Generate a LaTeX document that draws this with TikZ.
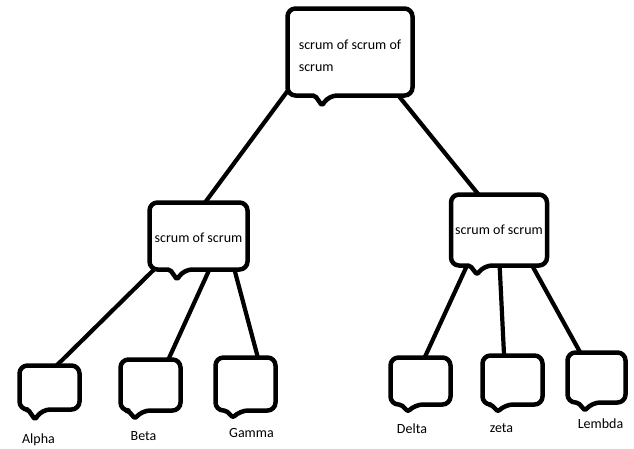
\documentclass[tikz,border=0pt]{standalone}
\usepackage{fontspec}
\setmainfont{Carlito}
\usepackage{tikz}

\newcommand{\bubbleline}[3]{%
  \draw[outline] (#1.north) [rounded corners=8pt] -- (#1.north east) -- (#1.south east)
    -- ([xshift=#2+7pt]#1.south) [rounded corners=2pt]
    -- ([xshift=#2, yshift=-#3]#1.south)
    -- ([xshift=#2-7pt]#1.south) [rounded corners=8pt]
    -- (#1.south west) -- (#1.north west) -- cycle;}

\begin{document}
\begin{tikzpicture}[
    x=1pt, y=-1pt,
    bubble/.style={rectangle, inner sep=0pt, outer sep=0pt,
                   font=\fontsize{14}{22}\selectfont, align=left},
    leaf/.style={bubble, minimum width=60pt},
    outline/.style={line width=4.5pt, line join=round},
    tag/.style={font=\fontsize{14}{16}\selectfont, inner sep=0pt, anchor=base},
    edge/.style={line width=4.2pt}]
    \useasboundingbox (0,0) rectangle (634,448);
    \node[bubble, minimum width=125pt, minimum height=87pt] (top) at (350,52)
      {\rule{0pt}{18pt}scrum of scrum of\\scrum};
    \node[bubble, minimum width=98pt, minimum height=67pt] (midl) at (198.5,236)
      {\rule{0pt}{14pt}scrum of scrum};
    \node[bubble, minimum width=96pt, minimum height=71pt] (midr) at (499,230)
      {scrum of scrum};
    \node[leaf, minimum height=44pt] (alpha) at (49.5,387.5) {};
    \node[leaf, minimum height=51pt] (beta) at (150.5,385) {};
    \node[leaf, minimum height=53pt] (gamma) at (245.5,384) {};
    \node[leaf, minimum height=47pt] (delta) at (420.5,381) {};
    \node[leaf, minimum height=49pt] (zeta) at (512.5,380) {};
    \node[leaf, minimum width=58pt, minimum height=50pt] (lembda) at (596.5,377.5) {};
    \bubbleline{top}{-28pt}{10pt}
    \bubbleline{midl}{-21.5pt}{10pt}
    \bubbleline{midr}{-22pt}{9pt}
    \bubbleline{alpha}{-14.5pt}{10pt}
    \bubbleline{beta}{-15.5pt}{8pt}
    \bubbleline{gamma}{-12.5pt}{7pt}
    \bubbleline{delta}{-12.5pt}{7pt}
    \bubbleline{zeta}{-14.5pt}{7pt}
    \bubbleline{lembda}{-11.5pt}{8pt}
    \node[tag] (alpha-name) at (38.5,443) {Alpha};
    \node[tag] (beta-name) at (143.5,440) {Beta};
    \node[tag] (gamma-name) at (251.5,437) {Gamma};
    \node[tag] (delta-name) at (412,433) {Delta};
    \node[tag] (zeta-name) at (501.5,432) {zeta};
    \node[tag] (lembda-name) at (600.5,428) {Lembda};
    \draw[edge] (top.212) -- (midl.79);
    \draw[edge] (top.318) -- (midr.120);
    \draw[edge] (midl.217) -- (alpha.72);
    \draw[edge] (midl.288) -- (beta.55);
    \draw[edge] (midl.317) -- (gamma.65);
    \draw[edge] (midr.228) -- (delta.80);
    \draw[edge] (midr.271) -- (zeta.109);
    \draw[edge] (midr.313) -- (lembda.123);
\end{tikzpicture}
\end{document}
